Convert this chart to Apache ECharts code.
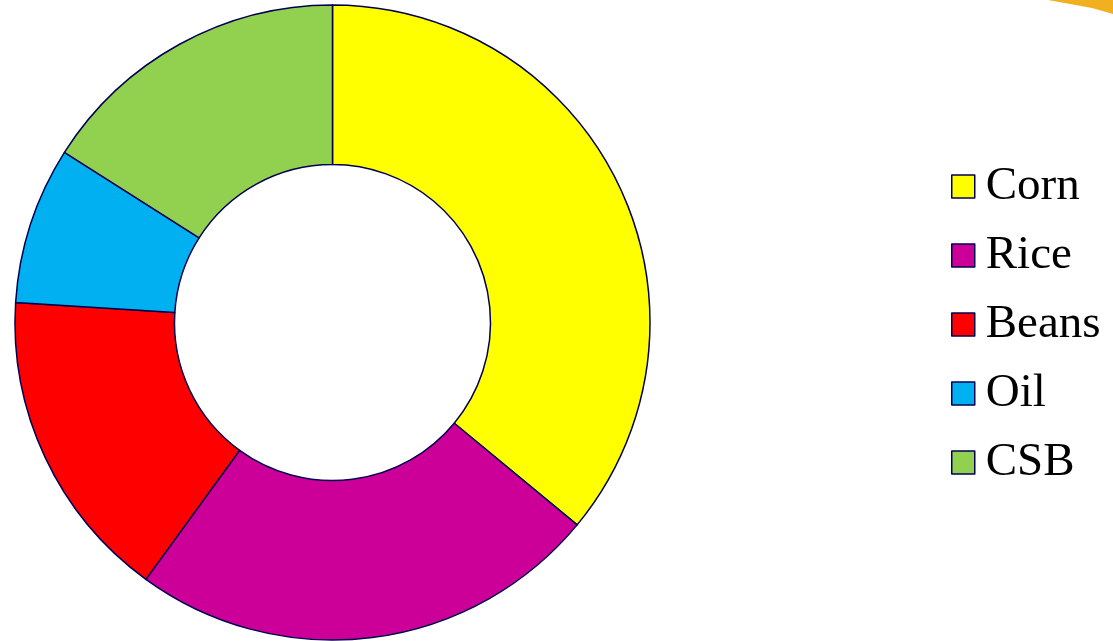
<!DOCTYPE html>
<html>
<head>
<meta charset="UTF-8">
<title>Food basket</title>
<style>
body{margin:0;background:#fff;}
#picContainer{width:1113px;height:641px;}
</style>
</head>
<body>
<div id="picContainer"></div>
<script src="https://cdn.jsdelivr.net/npm/echarts@6/dist/echarts.min.js"></script>
<script>
var names = ['Corn', 'Rice', 'Beans', 'Oil', 'CSB'];
var shares = [36, 24, 16, 8, 16];
var colors = ['#ffff00', '#cc0099', '#ff0000', '#00b0f0', '#92d050'];

main();
function main(){
    var data = [];
    for (var i = 0; i < names.length; i++) {
        data.push({name: names[i], value: shares[i], itemStyle: {color: colors[i]}});
    }
    drawPic(data);
}
function drawPic(data){
    var myChart = echarts.init(document.getElementById('picContainer'));
    var option = {
        animation: false,
        legend: {
            orient: 'vertical',
            left: 946,
            top: 158,
            itemWidth: 23,
            itemHeight: 23,
            itemGap: 22,
            icon: 'rect',
            textStyle: {
                fontFamily: 'Liberation Serif',
                fontSize: 47,
                lineHeight: 47,
                color: '#000',
                padding: [0, 0, 0, 6]
            },
            itemStyle: {borderColor: '#000050', borderWidth: 1.5},
            data: names
        },
        // orange swoosh in the corner of the slide
        graphic: [{
            type: 'polygon',
            shape: {points: [[1048, 0], [1113, 0], [1113, 14], [1092, 8]]},
            style: {fill: '#f0b020'},
            silent: true
        }],
        series: [{
            name: 'share',
            type: 'pie',
            center: [332.5, 322.5],
            radius: [158, 317.5],
            startAngle: 90,
            clockwise: true,
            label: {show: false},
            labelLine: {show: false},
            emphasis: {disabled: true},
            itemStyle: {borderColor: '#000050', borderWidth: 1.5},
            data: data
        }]
    };
    myChart.setOption(option);
}
</script>
</body>
</html>
